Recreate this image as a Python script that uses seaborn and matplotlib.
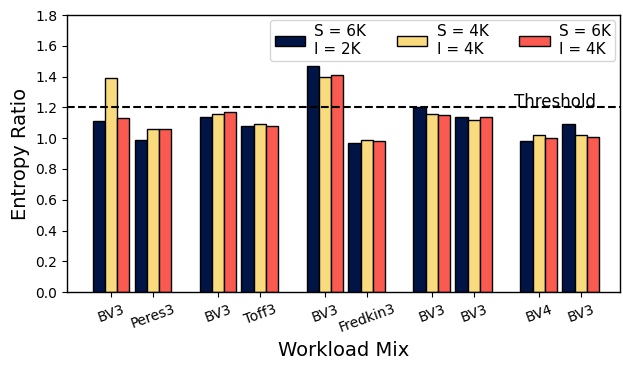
import numpy as np
import pandas as pd
import matplotlib
matplotlib.use("Agg")
import matplotlib.pyplot as plt
import seaborn as sns

# ------------------------------------------------------------
# DATA
# ------------------------------------------------------------
workloads = ["BV3", "Peres3", "BV3", "Toff3", "BV3", "Fredkin3", "BV3", "BV3", "BV4", "BV3"]
positions = [0, 1, 2.55, 3.55, 5.1, 6.1, 7.65, 8.65, 10.2, 11.2]
series = ["S = 6K\nI = 2K", "S = 4K\nI = 4K", "S = 6K\nI = 4K"]
s6k_i2k = [1.11, 0.99, 1.14, 1.08, 1.47, 0.97, 1.20, 1.14, 0.98, 1.09]
s4k_i4k = [1.39, 1.06, 1.16, 1.09, 1.40, 0.99, 1.16, 1.12, 1.02, 1.02]
s6k_i4k = [1.13, 1.06, 1.17, 1.08, 1.41, 0.98, 1.15, 1.14, 1.00, 1.01]
threshold = 1.2

COLORS = ["#001445", "#f9da7c", "#fb5a50"]

# ------------------------------------------------------------
# PLOT
# ------------------------------------------------------------
rows = []
for name, vals in zip(series, [s6k_i2k, s4k_i4k, s6k_i4k]):
    for pos, v in zip(positions, vals):
        rows.append({"Position": pos, "Config": name, "Ratio": v})
df = pd.DataFrame(rows)

sns.set_style("ticks")
plt.rcParams["font.family"] = ["DejaVu Sans"]
plt.rcParams.update({"text.color": "black", "axes.labelcolor": "black",
                     "xtick.color": "black", "ytick.color": "black",
                     "axes.edgecolor": "black"})

fig = plt.figure(figsize=(6.23, 3.67), dpi=100)
ax = fig.add_axes([0.1075, 0.204, 0.8875, 0.755])

sns.barplot(data=df, x="Position", y="Ratio", hue="Config", hue_order=series,
            palette=COLORS, saturation=1, native_scale=True, width=0.88, dodge=True,
            edgecolor="black", linewidth=1, ax=ax)

ax.axhline(threshold, color="black", linestyle="--", linewidth=1.5, zorder=3)
ax.text(9.6, threshold, "Threshold", fontsize=12, va="baseline", ha="left")

ax.set_xlim(positions[0] - 1.05, positions[-1] + 0.93)
ax.set_ylim(0, 1.8)
ax.set_yticks(np.arange(0, 1.81, 0.2))
ax.set_yticklabels([f"{t:.1f}" for t in np.arange(0, 1.81, 0.2)], fontsize=10)
ax.set_xticks(positions)
ax.set_xticklabels(workloads, rotation=20, fontsize=10)
ax.set_xlabel("Workload Mix", fontsize=14)
ax.set_ylabel("Entropy Ratio", fontsize=14)
for sp in ax.spines.values():
    sp.set_visible(True)
    sp.set_linewidth(1)
    sp.set_color("black")

handles, labels = ax.get_legend_handles_labels()
ax.legend(handles, labels, ncol=3, loc="upper right", fontsize=11,
          borderaxespad=0.3, borderpad=0.3, handlelength=2.0, handletextpad=0.6,
          columnspacing=2.0, labelspacing=0.1, frameon=True)

plt.savefig("out.png", dpi=100)
plt.close()
